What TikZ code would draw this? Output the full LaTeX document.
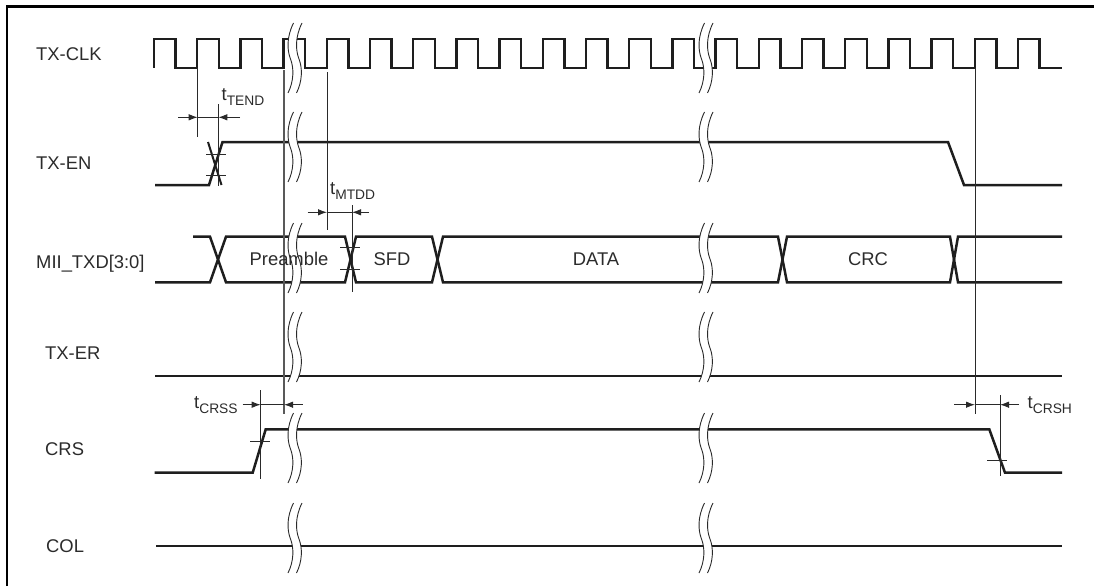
\documentclass[tikz,border=0pt]{standalone}
\usepackage{fontspec}
\setmainfont{Liberation Sans}
\definecolor{sig}{HTML}{1E1E1E}
\definecolor{txt}{HTML}{2B2B2B}
\definecolor{thin}{HTML}{2A2A2A}
\usetikzlibrary{arrows.meta}
\tikzset{
  sigline/.style={draw=sig,line width=2.5pt,line join=miter},
  guide/.style={draw=thin,line width=1pt},
  tick/.style={draw=thin,line width=0.9pt},
  dimarrow/.style={draw=thin,line width=0.9pt,-{Latex[length=9pt,width=6.5pt]}},
  lbl/.style={text=txt,anchor=base west,inner sep=0pt,font=\fontsize{18.4}{19}\selectfont},
  buslbl/.style={text=txt,anchor=base,inner sep=0pt,font=\fontsize{18.4}{19}\selectfont},
  tlbl/.style={text=txt,anchor=base west,inner sep=0pt,font=\fontsize{18.4}{19}\selectfont},
  wave/.style={draw=thin,line width=0.9pt}
}
\newcommand{\brk}[3]{%
  \begin{scope}[shift={(#1,#2)}]
    \fill[white] (5.5,0) .. controls (-1.5,14) and (-1,27) .. (2.5,36) .. controls (6,45) and (6,58) .. (0,70)
      -- (8.5,70) .. controls (14.5,58) and (14.5,45) .. (11,36) .. controls (7.5,27) and (7,14) .. (14,0) -- cycle;
    \draw[wave] (5.5,0) .. controls (-1.5,14) and (-1,27) .. (2.5,36) .. controls (6,45) and (6,58) .. (0,70);
    \draw[wave] (14,0) .. controls (7,14) and (7.5,27) .. (11,36) .. controls (14.5,45) and (14.5,58) .. (8.5,70);
  \end{scope}}
\newcommand{\tsub}[1]{t\raisebox{-5pt}{\fontsize{13.8}{14}\selectfont #1}}
\begin{document}
\begin{tikzpicture}[x=1pt,y=-1pt]
\useasboundingbox (0,0) rectangle (1094,586);
\draw[black,line width=2.2pt] (7,586) -- (7,6.5) -- (1094,6.5);
% labels
\node[lbl] (lclk) at (36,60.5) {TX-CLK};
\node[lbl] (len) at (36,169) {TX-EN};
\node[lbl] (ltxd) at (36,268) {MII\_TXD[3:0]};
\node[lbl] (ler) at (45,359) {TX-ER};
\node[lbl] (lcrs) at (45,455) {CRS};
\node[lbl] (lcol) at (46,552) {COL};
% TX-CLK
\draw[sigline] (154,67.5) -- (154,39)
  \foreach \k in {0,...,20} {
    -- ({154+43.2*\k},39) -- ({175.6+43.2*\k},39) -- ({175.6+43.2*\k},68)
    -- ({197.2+43.2*\k},68) -- ({197.2+43.2*\k},39)
  };
\fill[white] (1041,30) rectangle (1075,66.7);
\fill[white] (1062,66) rectangle (1075,70);
% TX-EN
\draw[sigline] (155,185) -- (209,185) -- (222.5,142) -- (948,142) -- (964,185) -- (1062,185);
\draw[draw=sig,line width=2pt] (208,142) -- (221.5,185);
% MII_TXD
\draw[sigline] (193,236.7) -- (210,236.7) -- (226,282.3) -- (345,282.3) -- (356,236.7) -- (432,236.7) -- (443,282.3) -- (778,282.3) -- (787,236.7) -- (950,236.7) -- (958,282.3) -- (1062,282.3);
\draw[sigline] (155,282.3) -- (210,282.3) -- (226,236.7) -- (345,236.7) -- (356,282.3) -- (432,282.3) -- (443,236.7) -- (778,236.7) -- (787,282.3) -- (950,282.3) -- (958,236.7) -- (1062,236.7);
% TX-ER
\draw[sigline] (155,376) -- (1062,376);
% CRS
\draw[sigline] (154.5,472.7) -- (252.7,472.7) -- (265.7,429.3) -- (989.3,429.3) -- (1005,472.7) -- (1062,472.7);
% COL
\draw[sigline] (156,546) -- (1062,546);
% breaks
\foreach \bx in {288,699} {
  \brk{\bx}{23}{}
  \brk{\bx}{112}{}
  \brk{\bx}{223}{}
  \brk{\bx}{312}{}
  \brk{\bx}{413}{}
  \brk{\bx}{503}{}
}
% guides
\draw[guide] (197.7,68) -- (197.7,137);
\draw[guide] (218.3,104) -- (218.3,186);
\draw[guide,line width=1.2pt,draw=black!65] (284,70) -- (284,414);
\draw[guide] (327,72) -- (327,230);
\draw[guide] (352,205) -- (352,292);
\draw[guide] (975,68) -- (975,414);
\draw[guide] (260.7,390) -- (260.7,479);
\draw[guide] (1000,395) -- (1000,476);
% ticks
\draw[tick] (206,154) -- (225.7,154);
\draw[tick] (206,175.7) -- (226,175.7);
\draw[tick] (340,247.3) -- (360,247.3);
\draw[tick] (340,269) -- (360,269);
\draw[tick] (250,441.7) -- (270,441.7);
\draw[tick] (987,460) -- (1007,460);
% dimension arrows
\draw[dimarrow] (178,117.3) -- (197.7,117.3);
\draw[tick] (197.7,117.3) -- (218.3,117.3);
\draw[dimarrow] (240,117.3) -- (218.3,117.3);
\draw[dimarrow] (307.7,212.3) -- (327,212.3);
\draw[tick] (327,212.3) -- (352,212.3);
\draw[dimarrow] (369,212.3) -- (352,212.3);
\draw[dimarrow] (242.7,404.7) -- (260.7,404.7);
\draw[tick] (260.7,404.7) -- (284,404.7);
\draw[dimarrow] (302.7,404.7) -- (284,404.7);
\draw[dimarrow] (954,404.7) -- (975,404.7);
\draw[tick] (975,404.7) -- (1000,404.7);
\draw[dimarrow] (1019,404.7) -- (1000,404.7);
% bus texts
\node[buslbl] (tpre) at (289,265.5) {Preamble};
\node[buslbl] (tsfd) at (392,265.5) {SFD};
\node[buslbl] (tdata) at (596,265.5) {DATA};
\node[buslbl] (tcrc) at (868,265.5) {CRC};
% timing labels
\node[tlbl] (ttend) at (221.5,100.5) {\tsub{TEND}};
\node[tlbl] (tmtdd) at (330,194.5) {\tsub{MTDD}};
\node[tlbl] (tcrss) at (194,408.5) {\tsub{CRSS}};
\node[tlbl] (tcrsh) at (1027.5,408.5) {\tsub{CRSH}};
\end{tikzpicture}
\end{document}
